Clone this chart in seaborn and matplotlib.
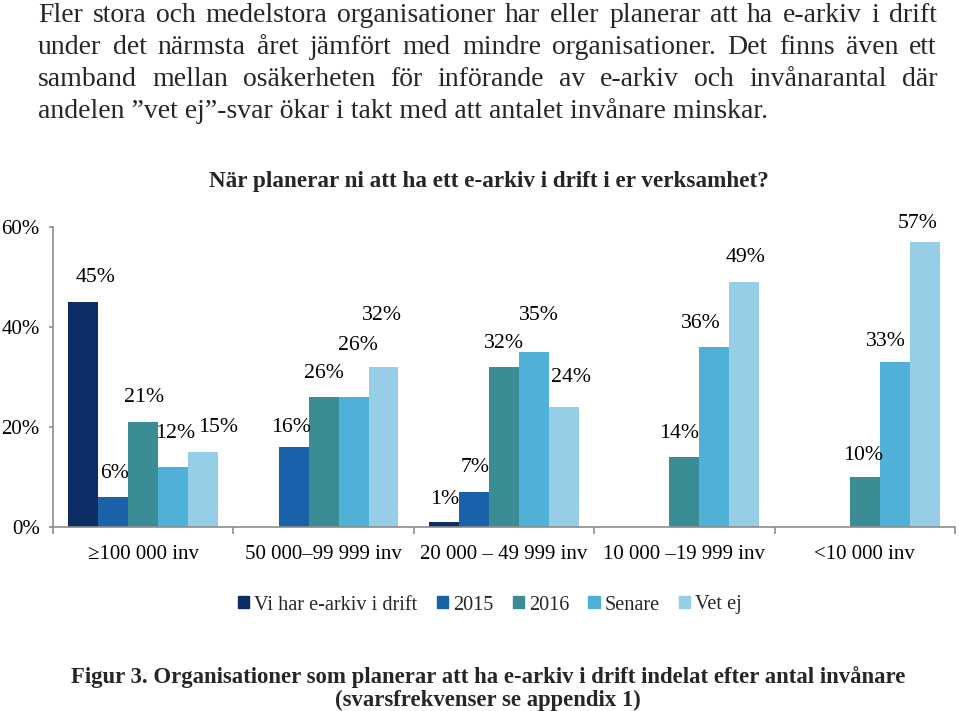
import pandas as pd
import matplotlib
matplotlib.use("Agg")
import matplotlib.pyplot as plt
import matplotlib.patches as mpatches
import seaborn as sns

# --- Data ---
GROUPS = ["\u2265100 000 inv", "50 000\u201399 999 inv", "20 000 \u2013 49 999 inv",
          "10 000 \u201319 999 inv", "<10 000 inv"]
SERIES = ["Vi har e-arkiv i drift", "2015", "2016", "Senare", "Vet ej"]
DRIFT = [45, None, 1, None, None]
Y2015 = [6, 16, 7, None, None]
Y2016 = [21, 26, 32, 14, 10]
SENARE = [12, 26, 35, 36, 33]
VET_EJ = [15, 32, 24, 49, 57]
Y_TICKS = [0, 20, 40, 60]

COLORS = ["#0C2E65", "#1962A9", "#3A8D95", "#4FB0D8", "#95CEE6"]

TITLE = "När planerar ni att ha ett e-arkiv i drift i er verksamhet?"
INTRO = [
    "Fler stora och medelstora organisationer har eller planerar att ha e-arkiv i drift",
    "under det närmsta året jämfört med mindre organisationer. Det finns även ett",
    "samband mellan osäkerheten för införande av e-arkiv och invånarantal där",
    "andelen \u201dvet ej\u201d-svar ökar i takt med att antalet invånare minskar.",
]
CAPTION = ("Figur 3. Organisationer som planerar att ha e-arkiv i drift indelat efter antal invånare\n"
           "(svarsfrekvenser se appendix 1)")

# label offsets (pixels) from the top centre of each bar, keyed (series, group)
LABEL_OFFSETS = {
    (0, 0): (12, 25), (1, 0): (1, 24), (2, 0): (1, 24), (3, 0): (2, 33), (4, 0): (15, 25),
    (1, 1): (-3, 19), (2, 1): (0, 24), (3, 1): (4, 52), (4, 1): (-2, 52),
    (0, 2): (1, 23), (1, 2): (1, 25), (2, 2): (0, 23), (3, 2): (5, 37), (4, 2): (7, 29),
    (2, 3): (-5, 23), (3, 3): (-14, 24), (4, 3): (1, 24),
    (2, 4): (-2, 21), (3, 4): (-9, 20), (4, 4): (-7, 19),
}

W, H, DPI = 959, 711, 100
AXIS_GRAY = "#8C8C8C"
TEXT_GRAY = "#262626"


def build_frame():
    rows = []
    for s, vals in zip(SERIES, [DRIFT, Y2015, Y2016, SENARE, VET_EJ]):
        for g, v in zip(GROUPS, vals):
            if v is not None:
                rows.append({"Grupp": g, "Svar": s, "Andel": v})
    return pd.DataFrame(rows)


def justify_line(fig, renderer, text, x0, x1, y, size):
    """Place words of one line so that it spans x0..x1 (figure pixels)."""
    words = text.split(" ")
    objs = [fig.text(0, y / H, w, fontsize=size, va="baseline", ha="left", color=TEXT_GRAY,
                     transform=fig.transFigure) for w in words]
    widths = [o.get_window_extent(renderer).width for o in objs]
    gap = (x1 - x0 - sum(widths)) / (len(words) - 1)
    x = x0
    for o, w in zip(objs, widths):
        o.set_x(x / W)
        x += w + gap


df = build_frame()

sns.set_theme(style="white")
plt.rcParams["font.family"] = ["Liberation Serif", "DejaVu Serif"]

fig = plt.figure(figsize=(W / DPI, H / DPI), dpi=DPI)
ax = fig.add_axes([53 / W, 1 - 527 / H, (955 - 53) / W, (527 - 227) / H])

sns.barplot(data=df, x="Grupp", y="Andel", hue="Svar", order=GROUPS, hue_order=SERIES,
            palette=COLORS, width=0.83, saturation=1, legend=False, ax=ax,
            edgecolor="none", linewidth=0)

ax.set_xlim(-0.5, len(GROUPS) - 0.5)
ax.set_ylim(0, 60)
ax.set_yticks(Y_TICKS)
ax.set_yticklabels([f"{t}%" for t in Y_TICKS])
ax.set_xlabel("")
ax.set_ylabel("")
for side in ["top", "right"]:
    ax.spines[side].set_visible(False)
for side in ["left", "bottom"]:
    ax.spines[side].set_color(AXIS_GRAY)
    ax.spines[side].set_linewidth(1.2)

ax.tick_params(axis="y", which="major", left=True, length=3, width=1.2, color=AXIS_GRAY,
               pad=6.5, labelsize=15, labelcolor="black")
ax.tick_params(axis="x", which="major", bottom=False, pad=7, labelsize=15, labelcolor="black")
ax.set_xticks([i - 0.5 for i in range(len(GROUPS) + 1)], minor=True)
ax.tick_params(axis="x", which="minor", bottom=True, length=5, width=1.2, color=AXIS_GRAY,
               direction="out")

# data labels
for si, container in enumerate(ax.containers):
    present = [gi for gi, v in enumerate([DRIFT, Y2015, Y2016, SENARE, VET_EJ][si]) if v is not None]
    for gi, bar in zip(present, container.patches):
        val = bar.get_height()
        dx, dy = LABEL_OFFSETS.get((si, gi), (0, 22))
        ax.annotate(f"{val:.0f}%", (bar.get_x() + bar.get_width() / 2, val),
                    xytext=(dx, dy), textcoords="offset pixels", ha="center", va="center",
                    fontsize=15.7, color="black", annotation_clip=False)

# chart title
fig.text(489 / W, 1 - 187 / H, TITLE, ha="center", va="baseline", fontsize=16.7,
         fontweight="bold")

# legend
handles = [mpatches.Patch(color=c, label=s) for c, s in zip(COLORS, SERIES)]
fig.legend(handles=handles, loc="center", bbox_to_anchor=(490 / W, 1 - 605 / H), ncol=5,
           frameon=False, fontsize=14.6, handlelength=0.55, handleheight=0.55,
           handletextpad=0.25, columnspacing=0.95, borderaxespad=0)

# caption
fig.text(488 / W, 1 - 706 / H, CAPTION, ha="center", va="baseline", fontsize=16.4,
         fontweight="bold", linespacing=1.1)

# intro paragraph, first three lines justified
renderer = fig.canvas.get_renderer()
baselines = [22, 54, 86, 118]
for i, line in enumerate(INTRO):
    y = H - baselines[i]
    if i < len(INTRO) - 1:
        justify_line(fig, renderer, line, 38, 937, y, 20)
    else:
        fig.text(38 / W, y / H, line, fontsize=20, va="baseline", ha="left", color=TEXT_GRAY)

fig.savefig("out.png", dpi=DPI)
